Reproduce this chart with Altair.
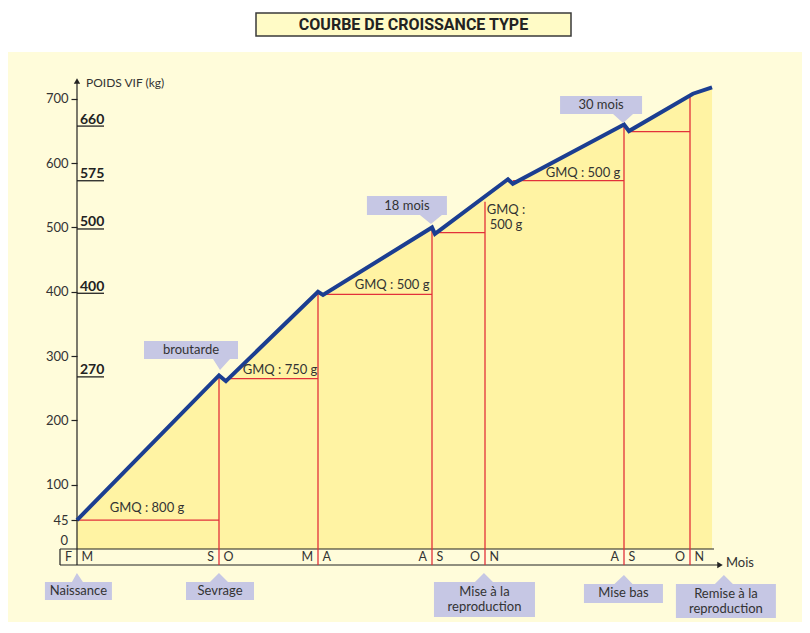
import altair as alt
import pandas as pd

# ---------------- data (months from birth, live weight in kg) ----------------
curve_month = [0, 7, 7.42, 13, 13.22, 18, 18.11, 21.65, 22.0, 30, 30.15, 32.14, 33.05]
curve_kg = [45, 270, 261, 400, 395, 500, 490, 575, 568, 660, 650, 708, 718]

h_start = [0, 7.42, 13.22, 18.11, 22.0, 30.15]
h_end = [7, 13, 18, 20, 30, 32]
h_kg = [45, 265, 396, 492, 573, 649]

v_month = [7, 13, 18, 20, 30, 32]
v_top = [270, 400, 500, 540, 660, 703]

axis_ticks = [45, 100, 200, 300, 400, 500, 600, 700]
key_weights = [270, 400, 500, 575, 660]

boundary_month = [0, 7, 13, 18, 20, 30, 32]
left_letters = ["F", "S", "M", "A", "O", "A", "O"]
right_letters = ["M", "O", "A", "S", "N", "S", "N"]

gmq_text = ["GMQ : 800 g", "GMQ : 750 g", "GMQ : 500 g", "GMQ :\n500 g", "GMQ : 500 g"]
gmq_month = [3.45, 10.70, 16.25, 21.51, 27.05]
gmq_kg = [64, 278, 411, 516, 585]

callout_text = ["broutarde", "18 mois", "30 mois", "Naissance", "Sevrage",
                "Mise à la\nreproduction", "Mise bas", "Remise à la\nreproduction"]
callout_month = [5.62, 16.9, 28.35, 0.07, 7.06, 19.98, 29.96, 33.71]
callout_kg = [309.5, 534, 690.5, -65.3, -65.3, -78.5, -69.2, -80.9]

# ---------------- styles ----------------
FONT = "Lato"
INK = "#333333"
DARK = "#222222"
BLUE = "#1B3E91"
RED = "#E2313A"
CREAM = "#FFFCDA"
FILL = "#FFF3A3"
LAV = "#C6C7E4"

# callout shapes (half width, half height, pointer base left/right, tip x/y), px
callout_geom = [
    (47, 9, 22, 39, 29, 20),
    (40, 9.5, 13, 35, 24, 18.5),
    (41, 9, 12, 32, 22, 18),
    (33.5, 9, -6.5, 4.5, -1.5, -18),
    (34, 9, -10, 8, -1, -18),
    (50.5, 17.5, -9.5, 8.5, -0.5, -26.5),
    (39.5, 9.5, -9, 9, 0.5, -18.5),
    (50, 17, -11, 7, -2, -26),
]


def callout_path(hw, hh, b0, b1, tx, ty):
    if ty > 0:
        return (f"M{-hw},{-hh}L{hw},{-hh}L{hw},{hh}L{b1},{hh}L{tx},{ty}"
                f"L{b0},{hh}L{-hw},{hh}Z")
    return (f"M{-hw},{-hh}L{b0},{-hh}L{tx},{ty}L{b1},{-hh}L{hw},{-hh}"
            f"L{hw},{hh}L{-hw},{hh}Z")


xs = alt.Scale(domain=[0, 7, 13, 18, 20, 30, 32, 34],
               range=[0, 142, 241, 355, 408, 547, 613, 655], nice=False, zero=False)
ys = alt.Scale(domain=[0, 734], nice=False, zero=False)

AX = alt.Axis(values=axis_ticks, title=None, domain=False, grid=False, zindex=1,
              tickSize=6, tickColor=DARK, tickWidth=1.2, labelFont=FONT,
              labelFontSize=13, labelColor=INK, labelPadding=3, labelOverlap=False)

one = pd.DataFrame({"a": [0]})
curve_df = pd.DataFrame({"m": curve_month, "kg": curve_kg})
h_df = pd.DataFrame({"m": h_start, "m1": h_end, "kg": h_kg})
v_df = pd.DataFrame({"m": v_month, "kg": v_top})
key_df = pd.DataFrame({"kg": key_weights, "t": [str(k) for k in key_weights]})
zero_df = pd.DataFrame({"kg": [0], "t": ["0"]})
band_l = pd.DataFrame({"m": boundary_month, "t": left_letters})
band_r = pd.DataFrame({"m": boundary_month, "t": right_letters})
gmq_df = pd.DataFrame({"m": gmq_month, "kg": gmq_kg, "t": gmq_text})
gmq_df["lines"] = gmq_df["t"].str.count("\n") + 1
call_df = pd.DataFrame({"m": callout_month, "kg": callout_kg, "t": callout_text,
                        "path": [callout_path(*g) for g in callout_geom]})
call_df["lines"] = call_df["t"].str.count("\n") + 1

X = alt.X("m:Q", scale=xs, axis=None)
Y = alt.Y("kg:Q", scale=ys, axis=AX)

bg = alt.Chart(one).mark_rect(color=CREAM).encode(
    x=alt.value(-69), x2=alt.value(725), y=alt.value(-25), y2=alt.value(545))

title_box = alt.Chart(one).mark_rect(fill="#FFFBC6", stroke="#3a3a3a", strokeWidth=1.5).encode(
    x=alt.value(179), x2=alt.value(494), y=alt.value(-64), y2=alt.value(-41))
title_txt = alt.Chart(one).mark_text(font="Roboto", fontWeight="bold", fontSize=16,
                                     color=DARK, baseline="middle").encode(
    x=alt.value(336.5), y=alt.value(-52.5), text=alt.value("COURBE DE CROISSANCE TYPE"))

area = alt.Chart(curve_df).mark_area(color=FILL, opacity=1).encode(
    x=X, y=Y, y2=alt.datum(0))

red_h = alt.Chart(h_df).mark_rule(color=RED, strokeWidth=1.3).encode(
    x=X, x2="m1:Q", y=Y)
red_v = alt.Chart(v_df).mark_rule(color=RED, strokeWidth=1.3).encode(
    x=X, y=Y, y2=alt.value(488))

band_top = alt.Chart(one).mark_rule(color=DARK, strokeWidth=1.2).encode(
    x=alt.value(-17), x2=alt.value(637), y=alt.value(472))
band_bot = alt.Chart(one).mark_rule(color=DARK, strokeWidth=1.2).encode(
    x=alt.value(-17), x2=alt.value(641), y=alt.value(488))
band_left = alt.Chart(one).mark_rule(color=DARK, strokeWidth=1.2).encode(
    x=alt.value(-17), y=alt.value(472), y2=alt.value(488))
x_arrow = alt.Chart(one).mark_point(shape="triangle-right", filled=True, color=DARK,
                                    size=40, opacity=1).encode(
    x=alt.value(643), y=alt.value(488))
y_line = alt.Chart(one).mark_rule(color=DARK, strokeWidth=1.2).encode(
    x=alt.value(0), y=alt.value(4), y2=alt.value(488))
y_arrow = alt.Chart(one).mark_point(shape="triangle-up", filled=True, color=DARK,
                                    size=40, opacity=1).encode(
    x=alt.value(0), y=alt.value(4))

curve = alt.Chart(curve_df).mark_line(color=BLUE, strokeWidth=4, strokeJoin="miter").encode(
    x=X, y=Y)

zero_lbl = alt.Chart(zero_df).mark_text(font=FONT, fontSize=13, color=INK, align="right",
                                        baseline="middle", dy=-8).encode(
    x=alt.value(-9), y=Y, text="t:N")

key_rule = alt.Chart(key_df).mark_rule(color=DARK, strokeWidth=1.3, yOffset=1.5).encode(
    x=alt.value(0), x2=alt.value(27), y=Y)
key_txt = alt.Chart(key_df).mark_text(font=FONT, fontSize=14, fontWeight="bold", color=DARK,
                                      align="left", baseline="alphabetic", dx=3, dy=-1).encode(
    x=alt.value(0), y=Y, text="t:N")

y_title = alt.Chart(one).mark_text(font=FONT, fontSize=12, color=INK, align="left",
                                   baseline="middle").encode(
    x=alt.value(9), y=alt.value(6), text=alt.value("POIDS VIF (kg)"))
x_title = alt.Chart(one).mark_text(font=FONT, fontSize=13, color=INK, align="left",
                                   baseline="middle").encode(
    x=alt.value(649), y=alt.value(486), text=alt.value("Mois"))

lett_l = alt.Chart(band_l).mark_text(font=FONT, fontSize=12.5, color=INK, align="right",
                                     baseline="middle", dx=-5).encode(
    x=X, y=alt.value(480), text="t:N")
lett_r = alt.Chart(band_r).mark_text(font=FONT, fontSize=12.5, color=INK, align="left",
                                     baseline="middle", dx=4.5).encode(
    x=X, y=alt.value(480), text="t:N")


def labels(df, lh, **kw):
    one_line = alt.Chart(df).transform_filter("datum.lines == 1").mark_text(
        font=FONT, fontSize=13, color=INK, align="center", baseline="middle", **kw
    ).encode(x=X, y=Y, text="t:N")
    two_line = alt.Chart(df).transform_filter("datum.lines == 2").mark_text(
        font=FONT, fontSize=13, color=INK, align="center", baseline="middle",
        lineBreak="\n", lineHeight=lh, dy=-lh / 2, **kw
    ).encode(x=X, y=Y, text="t:N")
    return [one_line, two_line]


gmq_layers = labels(gmq_df, 15)

call_box = alt.Chart(call_df).mark_point(filled=True, color=LAV, opacity=1, size=4,
                                         strokeWidth=0).encode(
    x=X, y=Y, shape=alt.Shape("path:N", scale=None, legend=None))
call_layers = labels(call_df, 15)

chart = alt.layer(
    bg, title_box, title_txt, area, band_top, band_bot, band_left, x_arrow,
    red_h, red_v, y_line, y_arrow, curve, zero_lbl, key_rule, key_txt,
    y_title, x_title, lett_l, lett_r, *gmq_layers, call_box, *call_layers,
).properties(
    width=660, height=472,
    padding={"left": 69, "top": 69, "right": 65, "bottom": 73},
    autosize=alt.AutoSizeParams(type="none"),
    background="white",
).configure_view(stroke=None)

chart.save("out.html", embed_options={"renderer": "svg", "actions": False})
